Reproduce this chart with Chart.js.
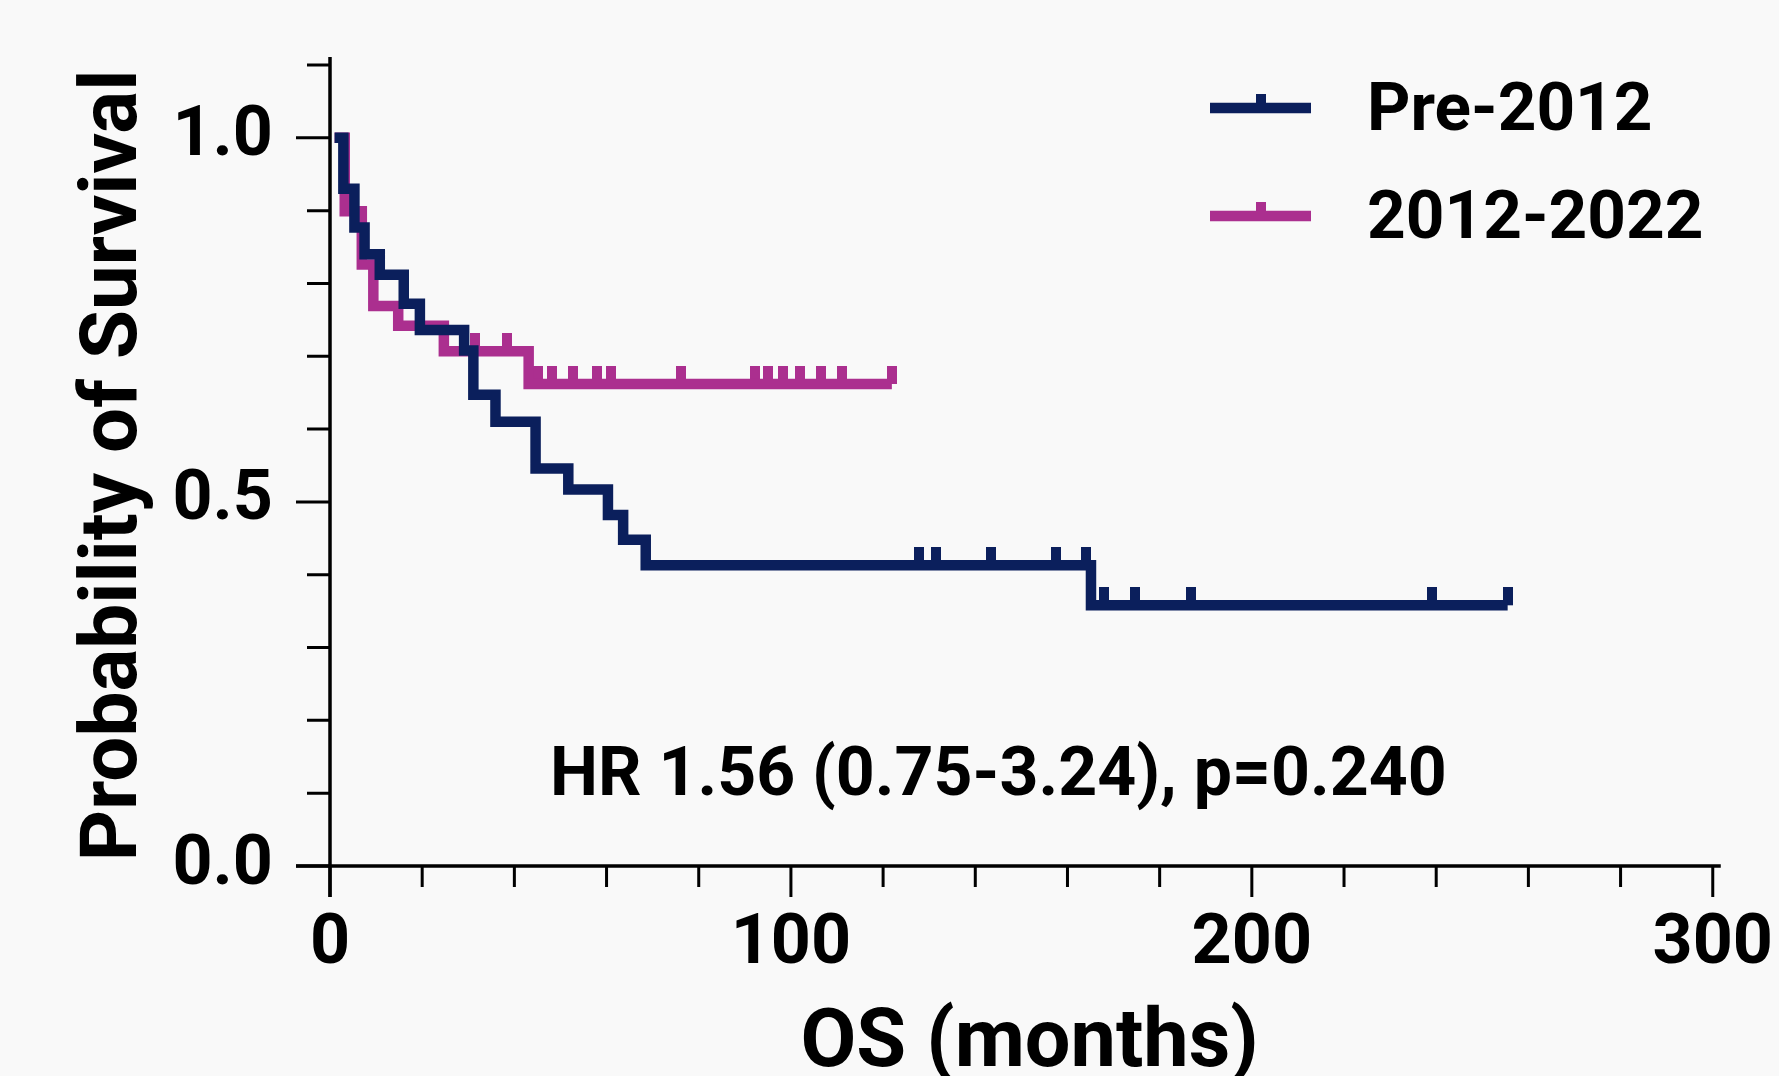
<!DOCTYPE html>
<html>
<head>
<meta charset="utf-8">
<script src="https://cdn.jsdelivr.net/npm/chart.js@4"></script>
<style>
  body { margin: 0; background: #f9f9f9; }
  canvas { display: block; }
</style>
</head>
<body>
<canvas id="km" width="1779" height="1076"></canvas>
<script>
// Kaplan-Meier steps (months, survival after the step)
var preTimes = [1, 2.9, 5.3, 7.5, 10.8, 16.0, 19.5, 29.1, 31.1, 35.9, 44.6, 51.7, 60.3, 63.6, 68.5, 165.1, 255.5];
var preSurv = [1.0, 0.930, 0.877, 0.840, 0.812, 0.772, 0.736, 0.708, 0.647, 0.610, 0.546, 0.517, 0.482, 0.448, 0.413, 0.358, 0.358];
var preCensor = [127.7, 131.4, 143.4, 157.5, 164.1, 168.0, 174.6, 186.8, 239.0, 255.5];

var postTimes = [1, 3.2, 6.9, 9.4, 14.8, 24.7, 43.1, 121.9];
var postSurv = [1.0, 0.899, 0.826, 0.769, 0.742, 0.707, 0.662, 0.662];
var postCensor = [31.4, 38.3, 45.1, 48.2, 52.7, 58.0, 61.0, 76.2, 92.1, 95.1, 98.2, 102.0, 106.5, 111.1, 121.9];

var groups = ['Pre-2012', '2012-2022'];
var yTickLabels = [0, 0.5, 1.0];
var xTickLabels = [0, 100, 200, 300];
var hrText = 'HR 1.56 (0.75-3.24), p=0.240';

var navy = '#0b1f5c';
var magenta = '#ab2f8f';

function steps(times, surv) {
    return times.map(function (t, i) { return {x: t, y: surv[i]}; });
}

// survival level at a censor time, looked up on the step curve
function levelAt(times, surv, t) {
    var s = surv[0];
    for (var i = 0; i < times.length; i++) {
        if (times[i] <= t) s = surv[i];
    }
    return s;
}

function censorPoints(times, surv, cens) {
    return cens.map(function (t) { return {x: t, y: levelAt(times, surv, t)}; });
}

// censor mark: small bar sitting on top of the line
function tickMark(color) {
    var c = document.createElement('canvas');
    c.width = 10;
    c.height = 36;
    var g = c.getContext('2d');
    g.fillStyle = color;
    g.fillRect(0, 0, 10, 18);
    return c;
}
var navyTick = tickMark(navy);
var magentaTick = tickMark(magenta);

Chart.defaults.font.family = 'Roboto';
Chart.defaults.font.weight = 'bold';
Chart.defaults.color = '#000';

var axesPlugin = {
    id: 'prismAxes',
    beforeDatasetsDraw: function (chart) {
        var ctx = chart.ctx;
        var xs = chart.scales.x, ys = chart.scales.y;
        var x0 = xs.getPixelForValue(0), y0 = ys.getPixelForValue(0);
        ctx.save();
        ctx.strokeStyle = '#000';
        ctx.lineWidth = 3.5;
        ctx.beginPath();
        ctx.moveTo(x0, ys.getPixelForValue(1.1) - 8);
        ctx.lineTo(x0, y0 + 31);
        ctx.moveTo(x0 - 34, y0);
        ctx.lineTo(xs.getPixelForValue(300) + 8, y0);
        ctx.stroke();
        ctx.lineWidth = 3;
        ctx.beginPath();
        ys.ticks.forEach(function (t) {
            var major = yTickLabels.some(function (v) { return Math.abs(v - t.value) < 1e-6; });
            var py = ys.getPixelForValue(t.value);
            ctx.moveTo(x0, py);
            ctx.lineTo(x0 - (major ? 34 : 23), py);
        });
        xs.ticks.forEach(function (t) {
            var major = xTickLabels.indexOf(Math.round(t.value)) >= 0;
            var px = xs.getPixelForValue(t.value);
            ctx.moveTo(px, y0);
            ctx.lineTo(px, y0 + (major ? 31 : 21));
        });
        ctx.stroke();
        ctx.restore();
    },
    afterDraw: function (chart) {
        var ctx = chart.ctx;
        var xs = chart.scales.x, ys = chart.scales.y;
        ctx.save();
        ctx.fillStyle = '#000';
        ctx.font = 'bold 68px Roboto';
        ctx.textAlign = 'center';
        ctx.textBaseline = 'alphabetic';
        ctx.fillText(hrText, xs.getPixelForValue(145), ys.getPixelForValue(0.098));

        // legend
        var colors = [navy, magenta];
        var marks = [navyTick, magentaTick];
        var rows = [108, 216];
        ctx.textAlign = 'left';
        ctx.font = 'bold 67.5px Roboto';
        groups.forEach(function (name, i) {
            var y = rows[i];
            ctx.strokeStyle = colors[i];
            ctx.lineWidth = 10.5;
            ctx.lineCap = 'butt';
            ctx.beginPath();
            ctx.moveTo(1210, y);
            ctx.lineTo(1311, y);
            ctx.stroke();
            ctx.drawImage(marks[i], 1261 - 5, y - 14);
            ctx.fillStyle = '#000';
            ctx.fillText(name, 1367, y + 22);
        });
        ctx.restore();
    }
};

new Chart(document.getElementById('km'), {
    type: 'line',
    data: {
        datasets: [
            {
                label: groups[0],
                data: steps(preTimes, preSurv),
                borderColor: navy,
                borderWidth: 10.5,
                stepped: 'before',
                pointRadius: 0,
                fill: false,
                clip: false
            },
            {
                label: groups[1],
                data: steps(postTimes, postSurv),
                borderColor: magenta,
                borderWidth: 10.5,
                stepped: 'before',
                pointRadius: 0,
                fill: false,
                clip: false
            },
            {
                type: 'scatter',
                label: groups[0] + ' censored',
                data: censorPoints(preTimes, preSurv, preCensor),
                pointStyle: navyTick,
                pointRadius: 5,
                showLine: false,
                clip: false
            },
            {
                type: 'scatter',
                label: groups[1] + ' censored',
                data: censorPoints(postTimes, postSurv, postCensor),
                pointStyle: magentaTick,
                pointRadius: 5,
                showLine: false,
                clip: false
            }
        ]
    },
    options: {
        responsive: false,
        animation: false,
        events: [],
        layout: {padding: {left: 0, top: 61, right: 65, bottom: 0}},
        plugins: {legend: {display: false}, tooltip: {enabled: false}},
        scales: {
            x: {
                type: 'linear',
                min: 0,
                max: 300,
                afterFit: function (s) { s.height = 210; },
                grid: {display: true, drawOnChartArea: false, drawTicks: true, tickLength: 31, color: 'rgba(0,0,0,0)'},
                border: {display: false},
                ticks: {
                    stepSize: 20,
                    autoSkip: false,
                    maxRotation: 0,
                    padding: 6,
                    font: {size: 70, weight: 'bold'},
                    callback: function (v) { return xTickLabels.indexOf(Math.round(v)) >= 0 ? String(Math.round(v)) : ''; }
                },
                title: {
                    display: true,
                    text: '\u2009OS (months)',
                    font: {size: 81, weight: 'bold', lineHeight: 0.75},
                    padding: {top: 0, bottom: 0}
                }
            },
            y: {
                min: 0,
                max: 1.1,
                afterFit: function (s) { s.width = 330; },
                grid: {display: true, drawOnChartArea: false, drawTicks: true, tickLength: 34, color: 'rgba(0,0,0,0)'},
                border: {display: false},
                ticks: {
                    stepSize: 0.1,
                    autoSkip: false,
                    padding: 23,
                    font: {size: 70, weight: 'bold'},
                    callback: function (v) {
                        var hit = yTickLabels.filter(function (t) { return Math.abs(t - v) < 1e-6; });
                        return hit.length ? hit[0].toFixed(1) : '';
                    }
                },
                title: {
                    display: true,
                    text: 'Probability of Survival',
                    font: {size: 80, weight: 'bold', lineHeight: 1},
                    padding: {top: 76, bottom: 0}
                }
            }
        }
    },
    plugins: [axesPlugin]
});
</script>
</body>
</html>
